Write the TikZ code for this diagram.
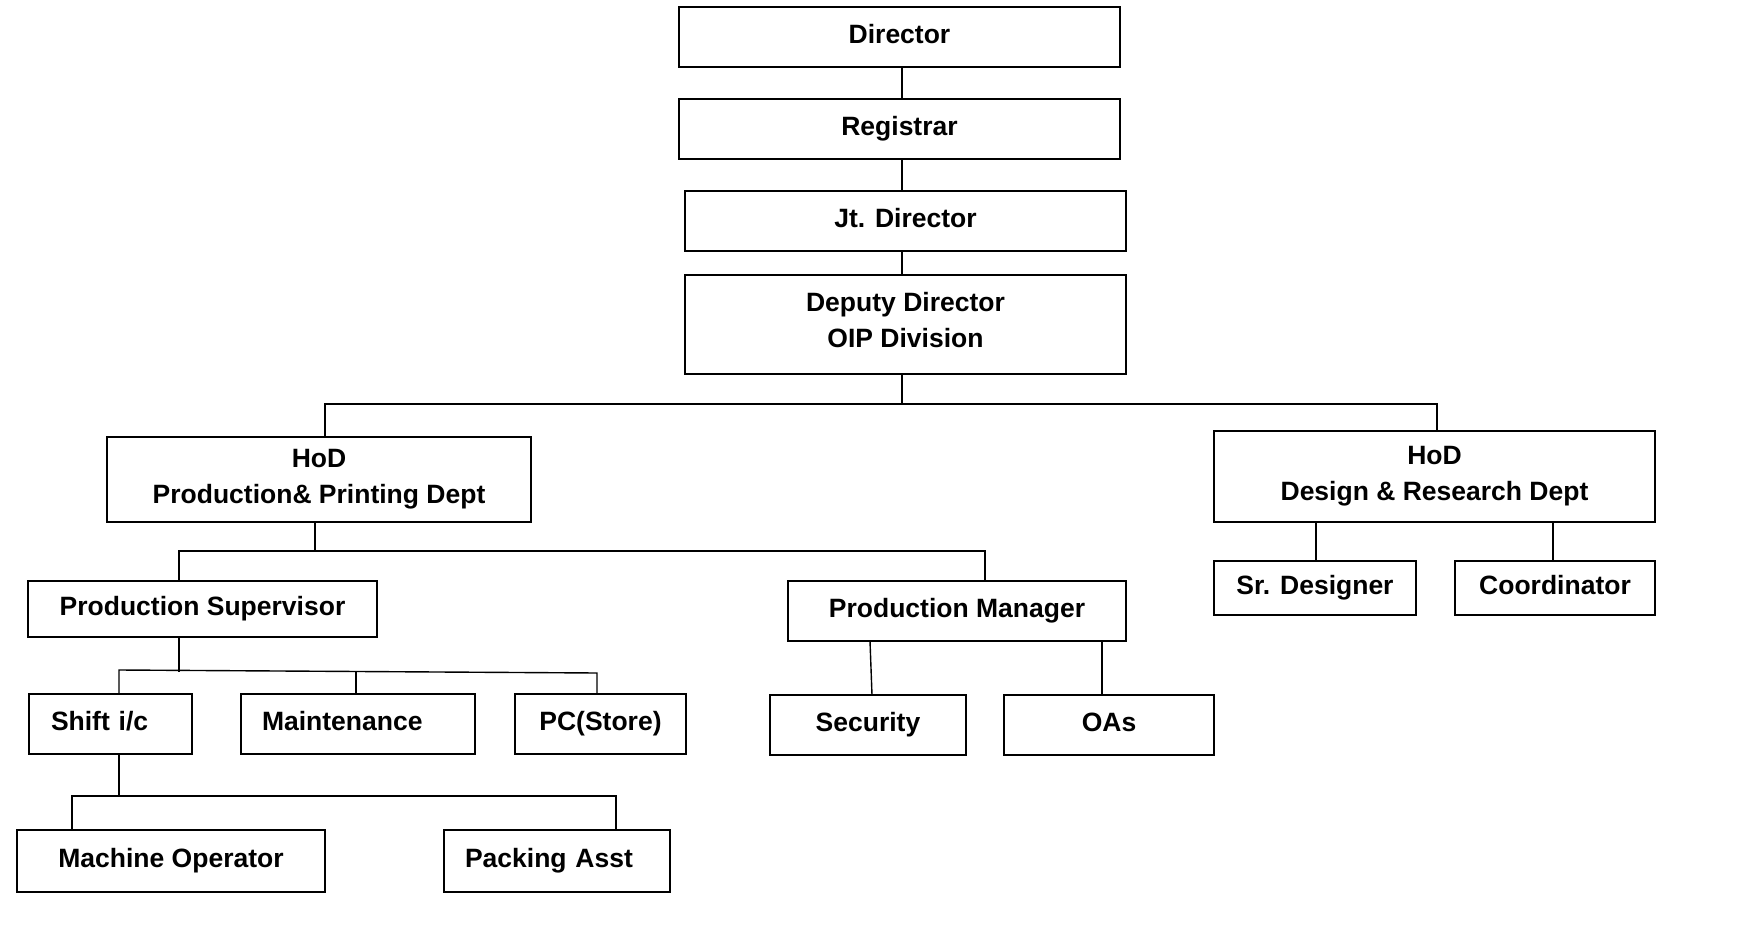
\documentclass[tikz,border=0pt]{standalone}
\usepackage{fontspec}
\setmainfont{Liberation Sans}
\begin{document}
\begin{tikzpicture}[x=1pt,y=-1pt,
  box/.style={draw=black, line width=2pt, fill=white, inner sep=0pt, outer sep=0pt,
    align=center, font=\fontsize{26.5}{36}\selectfont\bfseries},
  onebox/.style={box, text height=19pt, text depth=6pt},
  conn/.style={draw=black, line width=1.4pt},
  leftbox/.style={onebox, align=left}]
\fill[white] (0,0) rectangle (1764,941);
\useasboundingbox (0,0) rectangle (1764,941);

% boxes
\node[onebox, minimum width=441pt, minimum height=60pt] (dir) at (899.5,37) {Director};
\node[onebox, minimum width=441pt, minimum height=60pt] (reg) at (899.5,129) {Registrar};
\node[onebox, minimum width=441pt, minimum height=60pt] (jt) at (905.5,221) {Jt. Director};
\node[box, minimum width=441pt, minimum height=99pt] (dep) at (905.5,324.5) {Deputy Director\\OIP Division\rule[-9pt]{0pt}{9pt}};
\node[box, minimum width=424pt, minimum height=85pt] (hodp) at (319,479.5) {HoD\\Production\& Printing Dept\rule[-1pt]{0pt}{1pt}};
\node[box, minimum width=441pt, minimum height=91pt] (hodd) at (1434.5,476.5) {HoD\\Design \& Research Dept};
\node[onebox, minimum width=349pt, minimum height=56pt] (psup) at (202.5,609) {Production Supervisor};
\node[onebox, minimum width=338pt, minimum height=60pt] (pman) at (957,611) {Production Manager};
\node[leftbox, text width=119pt, inner xsep=22pt, minimum height=60pt] (shift) at (110.5,724) {Shift i/c};
\node[leftbox, text width=192pt, inner xsep=21pt, minimum height=60pt] (maint) at (358,724) {Maintenance};
\node[onebox, minimum width=171pt, minimum height=60pt] (pc) at (600.5,724) {PC(Store)};
\node[onebox, minimum width=196pt, minimum height=60pt] (sec) at (868,725) {Security};
\node[onebox, minimum width=210pt, minimum height=60pt] (oas) at (1109,725) {OAs};
\node[onebox, minimum width=202pt, minimum height=54pt] (srd) at (1315,588) {Sr. Designer};
\node[onebox, minimum width=200pt, minimum height=54pt] (coord) at (1555,588) {Coordinator};
\node[onebox, minimum width=308pt, minimum height=62pt] (mach) at (171,861) {Machine Operator};
\node[leftbox, text width=184pt, inner xsep=21pt, minimum height=62pt] (pack) at (557,861) {Packing Asst};

% junction coordinates
\coordinate (xtop) at (902,0);
\coordinate (busM) at (902,404);
\coordinate (busL) at (325,404);
\coordinate (busR) at (1437,404);
\coordinate (b2M) at (315,551);
\coordinate (b2L) at (179,551);
\coordinate (b2R) at (985,551);
\coordinate (b3M) at (179,672);
\coordinate (b3L) at (119,670);
\coordinate (b3C) at (356,671);
\coordinate (b3R) at (597,673);
\coordinate (b4M) at (119,796);
\coordinate (b4L) at (72,796);
\coordinate (b4R) at (616,796);
\coordinate (secT) at (870,0);
\coordinate (secB) at (872,0);
\coordinate (oasX) at (1102,0);
\coordinate (srdX) at (1316,0);
\coordinate (coordX) at (1553,0);

% connectors
\draw[conn] (dir.south -| xtop) -- (reg.north -| xtop);
\draw[conn] (reg.south -| xtop) -- (jt.north -| xtop);
\draw[conn] (jt.south -| xtop) -- (dep.north -| xtop);
\draw[conn] (dep.south -| xtop) -- (busM);
\draw[conn] (hodp.north -| busL) -- (busL) -- (busR) -- (hodd.north -| busR);

\draw[conn] (hodp.south -| b2M) -- (b2M);
\draw[conn] (psup.north -| b2L) -- (b2L) -- (b2R) -- (pman.north -| b2R);

\draw[conn] (psup.south -| b3M) -- (b3M);
\draw[conn] (shift.north -| b3L) -- (b3L) -- (b3R) -- (pc.north -| b3R);
\draw[conn] (b3C) -- (maint.north -| b3C);

\draw[conn] (pman.south -| secT) -- (sec.north -| secB);
\draw[conn] (pman.south -| oasX) -- (oas.north -| oasX);

\draw[conn] (hodd.south -| srdX) -- (srd.north -| srdX);
\draw[conn] (hodd.south -| coordX) -- (coord.north -| coordX);

\draw[conn] (shift.south -| b4M) -- (b4M);
\draw[conn] (mach.north -| b4L) -- (b4L) -- (b4R) -- (pack.north -| b4R);
\end{tikzpicture}
\end{document}
